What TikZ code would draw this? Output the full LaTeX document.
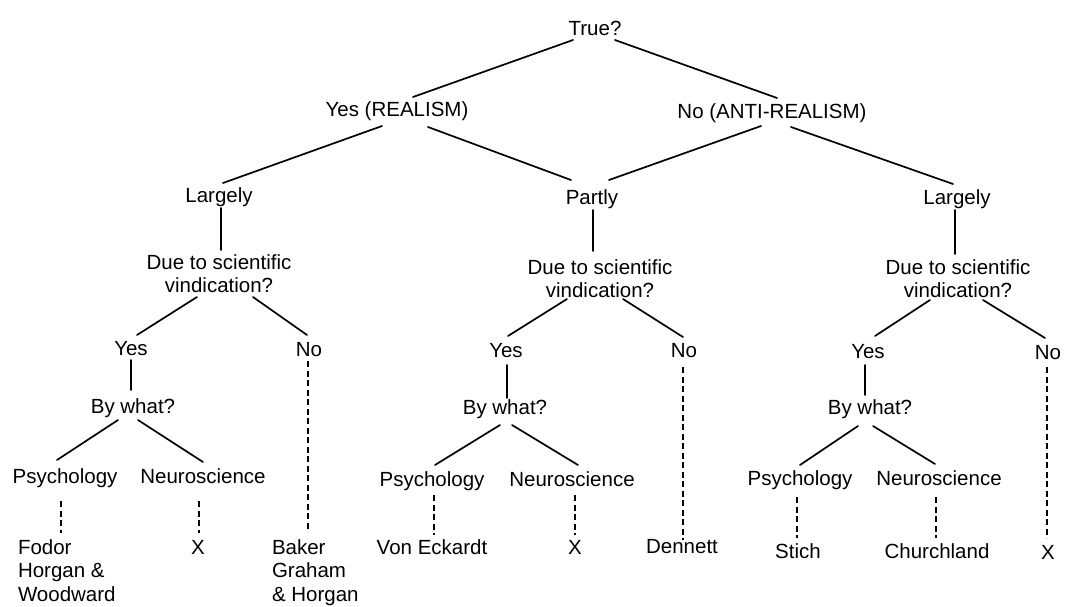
\documentclass[tikz,border=0pt]{standalone}
\usepackage{fontspec}
\setmainfont{Liberation Sans}
\begin{document}
\begin{tikzpicture}[x=1pt,y=-1pt,
  lbl/.style={inner sep=0pt, outer sep=0pt, anchor=base,
    font=\fontsize{20.5}{24}\selectfont},
  twoline/.style={lbl, align=center, font=\fontsize{20.5}{22.5}\selectfont},
  leaflist/.style={lbl, anchor=base west, align=left,
    font=\fontsize{20.5}{23.5}\selectfont},
  link/.style={line width=1.7pt, line cap=round},
  dlink/.style={line width=1.3pt, dash pattern=on 6pt off 3.5pt}]
\useasboundingbox[fill=white] (0,0) rectangle (1070,606);

% upper levels
\node[lbl] (true) at (595,35) {True?};
\node[lbl] (yr)   at (397,116) {Yes (REALISM)};
\node[lbl] (nar)  at (772,118) {No (ANTI-REALISM)};
\node[lbl] (lgL)  at (219,202) {Largely};
\node[lbl] (pt)   at (592,204) {Partly};
\node[lbl] (lgR)  at (957,204) {Largely};

% scientific vindication questions (base = last line)
\node[twoline] (dueL) at (219,292) {Due to scientific\\vindication?};
\node[twoline] (dueM) at (600,297) {Due to scientific\\vindication?};
\node[twoline] (dueR) at (958,297) {Due to scientific\\vindication?};

\node[lbl] (yesL) at (131,355) {Yes};
\node[lbl] (noL)  at (309,356) {No};
\node[lbl] (yesM) at (506,357) {Yes};
\node[lbl] (noM)  at (684,357) {No};
\node[lbl] (yesR) at (868,358) {Yes};
\node[lbl] (noR)  at (1048,359) {No};

\node[lbl] (byL) at (133,413) {By what?};
\node[lbl] (byM) at (505,414) {By what?};
\node[lbl] (byR) at (870,414) {By what?};

\node[lbl] (psyL) at (65,483)  {Psychology};
\node[lbl] (neuL) at (203,483) {Neuroscience};
\node[lbl] (psyM) at (432,486) {Psychology};
\node[lbl] (neuM) at (572,486) {Neuroscience};
\node[lbl] (psyR) at (800,485) {Psychology};
\node[lbl] (neuR) at (939,485) {Neuroscience};

% leaves (multi-line lists: base = last line)
\node[leaflist] (fodor) at (18,601) {Fodor\\Horgan \&\\Woodward};
\node[lbl] (xL) at (198,554) {X};
\node[leaflist] (baker) at (272,601) {Baker\\Graham\\\& Horgan};
\node[lbl] (vonE) at (432,554) {Von Eckardt};
\node[lbl] (xM) at (575,554) {X};
\node[lbl] (dennett) at (682,553) {Dennett};
\node[lbl] (stich) at (798,558) {Stich};
\node[lbl] (church) at (937,558) {Churchland};
\node[lbl] (xR) at (1048,559) {X};

% solid branches
\draw[link] ([shift={(-22,5)}]true.base) -- ([shift={(16,-19)}]yr.base);
\draw[link] ([shift={(20,5)}]true.base) -- ([shift={(5,-20)}]nar.base);
\draw[link] ([shift={(-15,10)}]yr.base) -- ([shift={(4,-19)}]lgL.base);
\draw[link] ([shift={(31,11)}]yr.base) -- ([shift={(-21,-24)}]pt.base);
\draw[link] ([shift={(-11,8)}]nar.base) -- ([shift={(17,-24)}]pt.base);
\draw[link] ([shift={(19,9)}]nar.base) -- ([shift={(-4,-20)}]lgR.base);

\draw[link] ([shift={(2,6)}]lgL.base) -- ([shift={(2,-42)}]dueL.base);
\draw[link] ([shift={(1,6)}]pt.base) -- ([shift={(-7,-46)}]dueM.base);
\draw[link] ([shift={(-2,6)}]lgR.base) -- ([shift={(-3,-43)}]dueR.base);

\draw[link] ([shift={(-22,5)}]dueL.base) -- ([shift={(6,-20)}]yesL.base);
\draw[link] ([shift={(34,5)}]dueL.base) -- ([shift={(-2,-21)}]noL.base);
\draw[link] ([shift={(-33,2)}]dueM.base) -- ([shift={(2,-21)}]yesM.base);
\draw[link] ([shift={(23,2)}]dueM.base) -- ([shift={(-1,-20)}]noM.base);
\draw[link] ([shift={(-28,3)}]dueR.base) -- ([shift={(7,-22)}]yesR.base);
\draw[link] ([shift={(25,3)}]dueR.base) -- ([shift={(-3,-21)}]noR.base);

\draw[link] ([shift={(0,5)}]yesL.base) -- ([shift={(-2,-23)}]byL.base);
\draw[link] ([shift={(1,8)}]yesM.base) -- ([shift={(2,-16)}]byM.base);
\draw[link] ([shift={(-3,7)}]yesR.base) -- ([shift={(-5,-19)}]byR.base);

\draw[link] ([shift={(-15,7)}]byL.base) -- ([shift={(-8,-23)}]psyL.base);
\draw[link] ([shift={(5,7)}]byL.base) -- ([shift={(0,-21)}]neuL.base);
\draw[link] ([shift={(-5,11)}]byM.base) -- ([shift={(3,-21)}]psyM.base);
\draw[link] ([shift={(7,11)}]byM.base) -- ([shift={(6,-21)}]neuM.base);
\draw[link] ([shift={(-12,12)}]byR.base) -- ([shift={(0,-20)}]psyR.base);
\draw[link] ([shift={(3,12)}]byR.base) -- ([shift={(-4,-21)}]neuR.base);

% dashed branches to the authors
\draw[dlink] ([shift={(-4,18)}]psyL.base) -- ([shift={(43,-68)}]fodor.base west);
\draw[dlink] ([shift={(-4,18)}]neuL.base) -- ([shift={(1,-21)}]xL.base);
\draw[dlink] ([shift={(-1,5)}]noL.base) -- ([shift={(36,-69)}]baker.base west);
\draw[dlink] ([shift={(2,9)}]psyM.base) -- ([shift={(2,-19)}]vonE.base);
\draw[dlink] ([shift={(3,9)}]neuM.base) -- ([shift={(0,-19)}]xM.base);
\draw[dlink] ([shift={(-1,10)}]noM.base) -- ([shift={(1,-13)}]dennett.base);
\draw[dlink] ([shift={(-3,12)}]psyR.base) -- ([shift={(-1,-20)}]stich.base);
\draw[dlink] ([shift={(-3,12)}]neuR.base) -- ([shift={(-1,-20)}]church.base);
\draw[dlink] ([shift={(-1,8)}]noR.base) -- ([shift={(-1,-21)}]xR.base);
\end{tikzpicture}
\end{document}
